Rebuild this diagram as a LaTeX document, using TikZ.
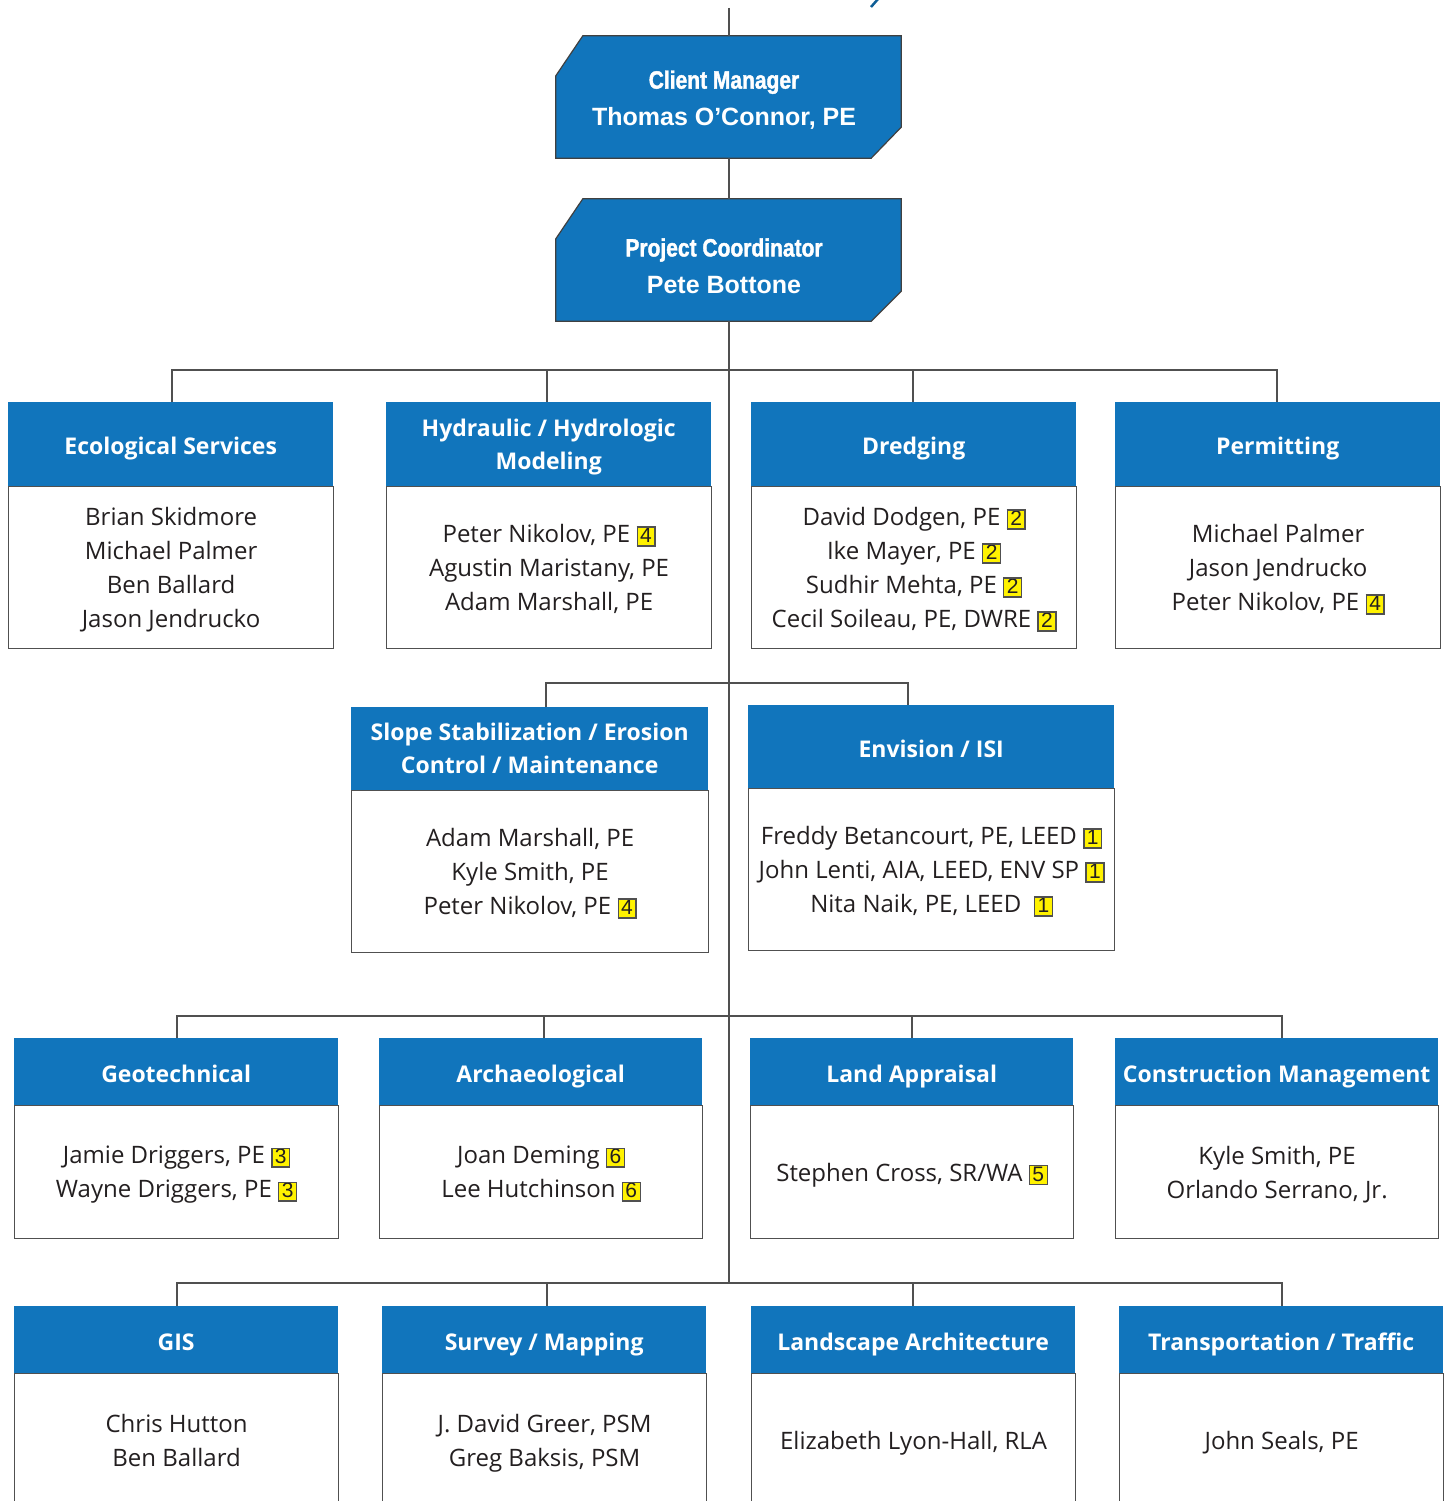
\documentclass[tikz,border=0pt]{standalone}
\usepackage{fontspec}
\setmainfont{Open Sans}
\newfontfamily\condfont[FakeStretch=0.84, FakeBold=1.6]{Liberation Sans Bold}
\newfontfamily\arialfont{Liberation Sans}
\definecolor{hblue}{RGB}{17,117,188}
\definecolor{ink}{RGB}{35,31,32}
\definecolor{lgray}{RGB}{80,80,80}
\definecolor{byellow}{RGB}{255,242,0}
\newcommand\badge[1]{{\setlength{\fboxsep}{0pt}\setlength{\fboxrule}{1.3pt}\fcolorbox{lgray}{byellow}{\makebox[16.5pt]{\rule[-2.5pt]{0pt}{17.5pt}\arialfont\fontsize{21}{21}\selectfont #1}}}}
\newcommand\hstrut{\rule[-6pt]{0pt}{33pt}}
\newcommand\bstrut{\rule[-8pt]{0pt}{34pt}}
\tikzset{
  conn/.style={draw=lgray, line width=1.5pt},
  hdrbase/.style={fill=hblue, text=white, font=\fontsize{23}{33}\selectfont\bfseries, align=center, inner sep=0pt, anchor=north west},
  hdr/.style={hdrbase, execute at begin node=\hstrut},
  hdrm/.style={hdrbase, text depth=0pt},
  bodybase/.style={draw=lgray, line width=1.2pt, text=ink, font=\fontsize{24}{34}\selectfont, align=center, inner sep=0pt, anchor=north west},
  bodyb/.style={bodybase, text depth=0pt},
  bodys/.style={bodybase, execute at begin node=\bstrut},
  topbox/.style={text=white, align=center, inner sep=0pt, minimum width=345, minimum height=122},
  topshape/.style={fill=hblue, draw=black!75, line width=1.2pt}
}
\begin{document}
\begin{tikzpicture}[x=1pt,y=-1pt]
\useasboundingbox (0,0) rectangle (1447,1501);
\clip (0,0) rectangle (1447,1501);
\fill[white] (0,0) rectangle (1447,1501);

% top boxes
\node[topbox] (cm) at (728.5,97) {};
\node[topbox] (pc) at (728.5,260) {};
\draw[topshape] ([xshift=27]cm.north west) -- (cm.north east) -- ([yshift=31]cm.south east) -- ([xshift=-30]cm.south east) -- (cm.south west) -- ([yshift=-40]cm.north west) -- cycle;
\draw[topshape] ([xshift=27]pc.north west) -- (pc.north east) -- ([yshift=30]pc.south east) -- ([xshift=-30]pc.south east) -- (pc.south west) -- ([yshift=-40]pc.north west) -- cycle;
\node[text=white, align=center, font=\fontsize{25}{37}\selectfont] (cmt) at (724,100) {{\condfont Client Manager}\\{\arialfont\bfseries Thomas O’Connor, PE}};
\node[text=white, align=center, font=\fontsize{25}{37}\selectfont] (pct) at (724,266) {{\condfont Project Coordinator}\\{\arialfont\bfseries Pete Bottone}};

% row 1
\node[bodyb, minimum width=325, minimum height=162] (ecob) at (8,486) {Brian Skidmore\\Michael Palmer\\Ben Ballard\\Jason Jendrucko};
\node[hdr, minimum width=325, minimum height=84] (ecoh) at (8,402) {Ecological Services};
\node[bodyb, minimum width=325, minimum height=162] (hydb) at (386,486) {Peter Nikolov, PE \badge{4}\\Agustin Maristany, PE\\Adam Marshall, PE};
\node[hdrm, minimum width=325, minimum height=84] (hydh) at (386,402) {Hydraulic / Hydrologic\\Modeling};
\node[bodyb, minimum width=325, minimum height=162] (dreb) at (751,486) {David Dodgen, PE \badge{2}\\Ike Mayer, PE \badge{2}\\Sudhir Mehta, PE \badge{2}\\Cecil Soileau, PE, DWRE \badge{2}};
\node[hdr, minimum width=325, minimum height=84] (dreh) at (751,402) {Dredging};
\node[bodyb, minimum width=325, minimum height=162] (perb) at (1115,486) {Michael Palmer\\Jason Jendrucko\\Peter Nikolov, PE \badge{4}};
\node[hdr, minimum width=325, minimum height=84] (perh) at (1115,402) {Permitting};

% row 2
\node[bodyb, minimum width=357, minimum height=162] (slob) at (351,790) {Adam Marshall, PE\\Kyle Smith, PE\\Peter Nikolov, PE \badge{4}};
\node[hdrm, minimum width=357, minimum height=83] (sloh) at (351,707) {Slope Stabilization / Erosion\\Control / Maintenance};
\node[bodyb, minimum width=366, minimum height=162] (envb) at (748,788) {Freddy Betancourt, PE, LEED \badge{1}\\John Lenti, AIA, LEED, ENV SP \badge{1}\\Nita Naik, PE, LEED\ \ \badge{1}};
\node[hdr, minimum width=366, minimum height=83] (envh) at (748,705) {Envision / ISI};

% row 3
\node[bodyb, minimum width=324, minimum height=133] (geob) at (14,1105) {Jamie Driggers, PE \badge{3}\\Wayne Driggers, PE \badge{3}};
\node[hdr, minimum width=324, minimum height=67] (geoh) at (14,1038) {Geotechnical};
\node[bodyb, minimum width=323, minimum height=133] (arcb) at (379,1105) {Joan Deming \badge{6}\\Lee Hutchinson \badge{6}};
\node[hdr, minimum width=323, minimum height=67] (arch) at (379,1038) {Archaeological};
\node[bodys, minimum width=323, minimum height=133] (lanb) at (750,1105) {Stephen Cross, SR/WA \badge{5}};
\node[hdr, minimum width=323, minimum height=67] (lanh) at (750,1038) {Land Appraisal};
\node[bodyb, minimum width=323, minimum height=133] (conb) at (1115,1105) {Kyle Smith, PE\\Orlando Serrano, Jr.};
\node[hdr, minimum width=323, minimum height=67] (conh) at (1115,1038) {Construction Management};

% row 4
\node[bodyb, minimum width=324, minimum height=134] (gisb) at (14,1373) {Chris Hutton\\Ben Ballard};
\node[hdr, minimum width=324, minimum height=67] (gish) at (14,1306) {GIS};
\node[bodyb, minimum width=324, minimum height=134] (surb) at (382,1373) {J. David Greer, PSM\\Greg Baksis, PSM};
\node[hdr, minimum width=324, minimum height=67] (surh) at (382,1306) {Survey / Mapping};
\node[bodys, minimum width=324, minimum height=134] (lndb) at (751,1373) {Elizabeth Lyon-Hall, RLA};
\node[hdr, minimum width=324, minimum height=67] (lndh) at (751,1306) {Landscape Architecture};
\node[bodys, minimum width=324, minimum height=134] (trab) at (1119,1373) {John Seals, PE};
\node[hdr, minimum width=324, minimum height=67] (trah) at (1119,1306) {Transportation / Traffic};

% connectors
\coordinate (ttop) at (729,8);
\coordinate (tbot) at (729,1283);
\draw[conn] (ttop) -- (ttop |- cm.north);
\draw[conn] (ttop |- cm.south) -- (ttop |- pc.north);
\draw[conn] (ttop |- pc.south) -- (tbot);

\coordinate (r1a) at (172,370); \coordinate (r1b) at (547,370);
\coordinate (r1c) at (913,370); \coordinate (r1d) at (1277,370);
\draw[conn] (r1a |- ecoh.north) -- (r1a) -- (r1d) -- (r1d |- perh.north);
\draw[conn] (r1b) -- (r1b |- hydh.north);
\draw[conn] (r1c) -- (r1c |- dreh.north);

\coordinate (r2a) at (546,683); \coordinate (r2b) at (908,683);
\draw[conn] (r2a |- sloh.north) -- (r2a) -- (r2b) -- (r2b |- envh.north);

\coordinate (r3a) at (177,1016); \coordinate (r3b) at (544,1016);
\coordinate (r3c) at (912,1016); \coordinate (r3d) at (1282,1016);
\draw[conn] (r3a |- geoh.north) -- (r3a) -- (r3d) -- (r3d |- conh.north);
\draw[conn] (r3b) -- (r3b |- arch.north);
\draw[conn] (r3c) -- (r3c |- lanh.north);

\coordinate (r4a) at (177,1283); \coordinate (r4b) at (547,1283);
\coordinate (r4c) at (913,1283); \coordinate (r4d) at (1282,1283);
\draw[conn] (r4a |- gish.north) -- (r4a) -- (r4d) -- (r4d |- trah.north);
\draw[conn] (r4b) -- (r4b |- surh.north);
\draw[conn] (r4c) -- (r4c |- lndh.north);

% fragment at top edge
\draw[hblue!80!black, line width=2.5pt] (871,7) -- (878,-1);
\end{tikzpicture}
\end{document}
